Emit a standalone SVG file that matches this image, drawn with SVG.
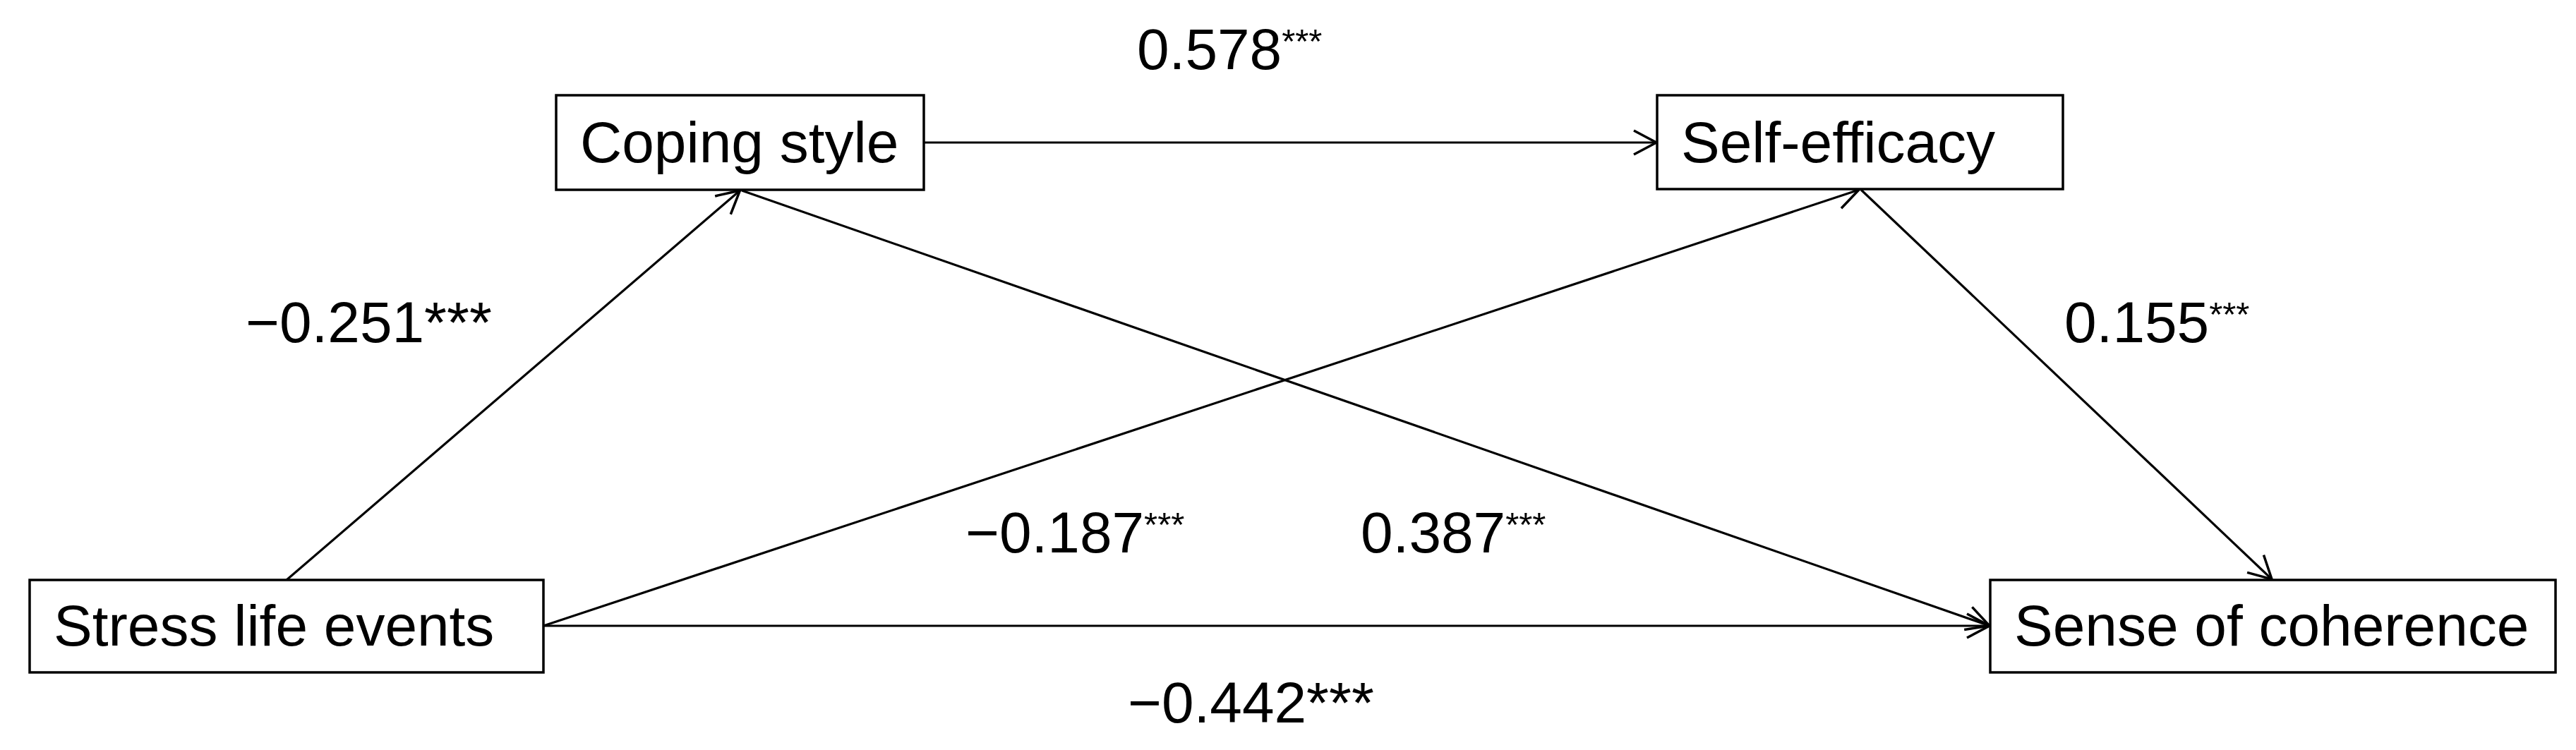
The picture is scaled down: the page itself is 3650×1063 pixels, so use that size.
<svg xmlns="http://www.w3.org/2000/svg" width="3650" height="1063" viewBox="0 0 3650 1063">
  <style>
    .box { fill: #ffffff; stroke: #000000; stroke-width: 3.5; }
    .lbl { font-family: "Liberation Sans", Arial, sans-serif; font-size: 82px; fill: #000000; }
    .conn { fill: none; stroke: #000000; stroke-width: 3.2; }
    .sup { font-size: 49px; }
  </style>
  <defs>
    <marker id="arr" viewBox="-40 -25 46 50" refX="0" refY="0" markerWidth="46" markerHeight="50" markerUnits="userSpaceOnUse" orient="auto" overflow="visible">
      <path d="M-32,-17 L0,0 L-32,17" fill="none" stroke="#000000" stroke-width="3.5" stroke-linejoin="miter"/>
    </marker>
  </defs>
  <rect width="3650" height="1063" fill="#ffffff"/>

  <g id="connectors">
    <path class="conn" d="M406,822 L1048.5,270" marker-end="url(#arr)"/>
    <path class="conn" d="M1309,202 L2347,202" marker-end="url(#arr)"/>
    <path class="conn" d="M1051,270 L2819,887" marker-end="url(#arr)"/>
    <path class="conn" d="M770,887 L2634,269" marker-end="url(#arr)"/>
    <path class="conn" d="M2637,269 L3219,821" marker-end="url(#arr)"/>
    <path class="conn" d="M770,887 L2819,887" marker-end="url(#arr)"/>
  </g>

  <g id="node-coping">
    <rect class="box" x="788" y="135" width="521" height="134"/>
    <text class="lbl" x="822" y="230">Coping style</text>
  </g>
  <g id="node-self">
    <rect class="box" x="2348" y="135" width="575" height="133"/>
    <text class="lbl" x="2382" y="230">Self-efficacy</text>
  </g>
  <g id="node-stress">
    <rect class="box" x="42" y="822" width="728" height="131"/>
    <text class="lbl" x="76" y="915">Stress life events</text>
  </g>
  <g id="node-sense">
    <rect class="box" x="2820" y="822" width="801" height="131"/>
    <text class="lbl" x="2854" y="915">Sense of coherence</text>
  </g>

  <g id="labels">
    <text class="lbl" x="1611" y="98">0.578<tspan class="sup" dy="-23">***</tspan></text>
    <text class="lbl" x="348" y="485">−0.251***</text>
    <text class="lbl" x="2925" y="485">0.155<tspan class="sup" dy="-23">***</tspan></text>
    <text class="lbl" x="1368" y="783">−0.187<tspan class="sup" dy="-23">***</tspan></text>
    <text class="lbl" x="1928" y="783">0.387<tspan class="sup" dy="-23">***</tspan></text>
    <text class="lbl" x="1598" y="1024">−0.442***</text>
  </g>
</svg>
